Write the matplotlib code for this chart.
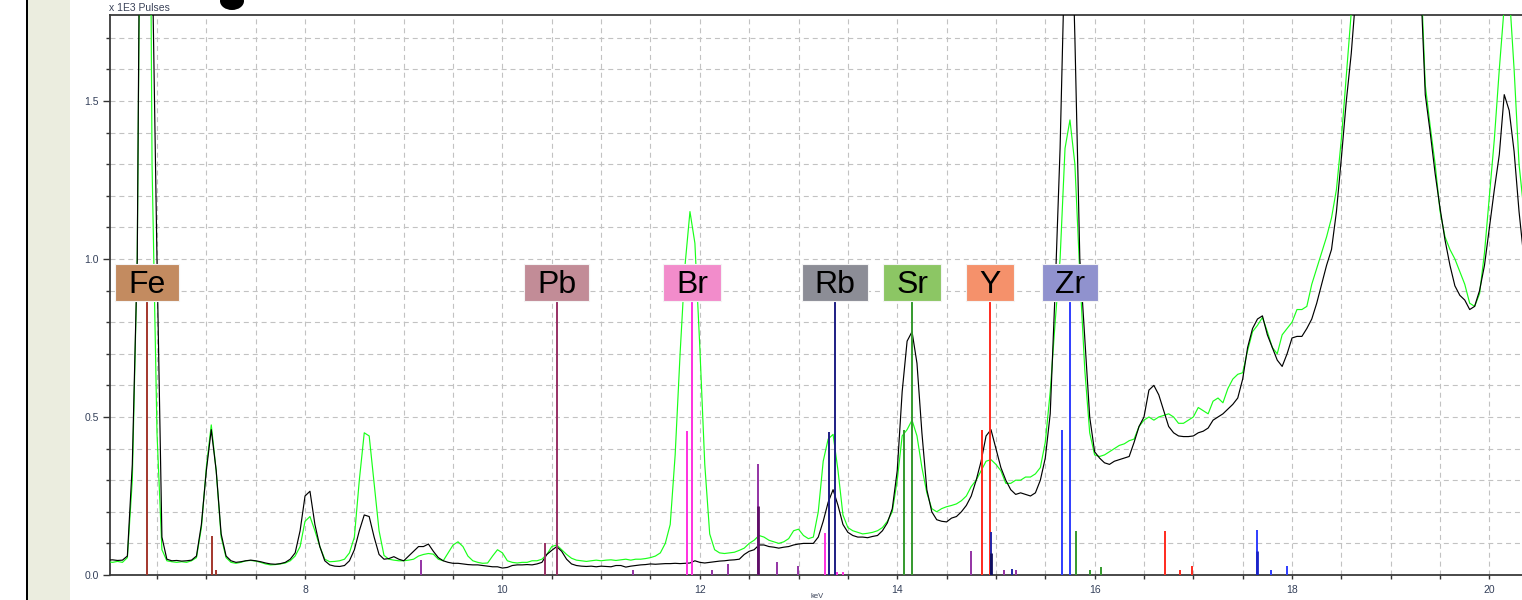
import numpy as np
import matplotlib
matplotlib.use('Agg')
import matplotlib.pyplot as plt
from matplotlib.patches import Rectangle, Ellipse
from matplotlib.ticker import MultipleLocator, FormatStrFormatter

# ---------------- data ----------------
# energy channels (keV), 0.05 keV apart, 6.00 ... 20.35
energy = np.round(np.arange(6.00, 20.351, 0.05), 2)

# spectrum 1 (black), x 1E3 pulses
black_counts = [
    0.047, 0.048, 0.046, 0.047, 0.06, 0.35, 1.00, 3.20, 4.00, 2.00, 1.00, 0.12, 0.05, 0.045, 0.046, 0.044, 0.045, 0.047, 0.06, 0.16,
    0.33, 0.46, 0.33, 0.13, 0.06, 0.045, 0.04, 0.042, 0.045, 0.047, 0.045, 0.042, 0.038, 0.035, 0.034, 0.036, 0.04, 0.05, 0.07, 0.14,
    0.25, 0.265, 0.16, 0.09, 0.045, 0.032, 0.028, 0.027, 0.03, 0.045, 0.08, 0.14, 0.19, 0.185, 0.12, 0.065, 0.05, 0.052, 0.058, 0.05,
    0.045, 0.06, 0.075, 0.09, 0.09, 0.098, 0.075, 0.055, 0.045, 0.04, 0.037, 0.037, 0.035, 0.033, 0.032, 0.032, 0.03, 0.028, 0.026, 0.026,
    0.022, 0.024, 0.03, 0.032, 0.032, 0.033, 0.032, 0.035, 0.04, 0.065, 0.078, 0.09, 0.075, 0.05, 0.035, 0.03, 0.028, 0.027, 0.028, 0.026,
    0.028, 0.027, 0.026, 0.03, 0.03, 0.025, 0.028, 0.03, 0.032, 0.033, 0.035, 0.034, 0.035, 0.036, 0.036, 0.037, 0.036, 0.037, 0.038, 0.045,
    0.04, 0.038, 0.04, 0.042, 0.044, 0.045, 0.047, 0.048, 0.05, 0.065, 0.075, 0.08, 0.095, 0.095, 0.09, 0.088, 0.085, 0.088, 0.09, 0.095,
    0.098, 0.1, 0.1, 0.1, 0.12, 0.17, 0.23, 0.27, 0.22, 0.16, 0.135, 0.125, 0.12, 0.12, 0.118, 0.122, 0.125, 0.14, 0.165, 0.21,
    0.33, 0.58, 0.74, 0.77, 0.67, 0.45, 0.27, 0.2, 0.175, 0.17, 0.168, 0.18, 0.185, 0.2, 0.22, 0.25, 0.3, 0.36, 0.44, 0.46,
    0.4, 0.34, 0.3, 0.27, 0.255, 0.26, 0.255, 0.25, 0.26, 0.3, 0.37, 0.51, 0.9, 1.35, 2.0, 2.3, 1.7, 1.0, 0.75, 0.5,
    0.39, 0.37, 0.355, 0.35, 0.36, 0.365, 0.37, 0.375, 0.42, 0.47, 0.5, 0.585, 0.6, 0.57, 0.52, 0.47, 0.45, 0.44, 0.438, 0.438,
    0.44, 0.45, 0.455, 0.465, 0.49, 0.5, 0.51, 0.525, 0.54, 0.56, 0.62, 0.72, 0.78, 0.81, 0.82, 0.76, 0.72, 0.68, 0.66, 0.7,
    0.75, 0.755, 0.755, 0.78, 0.81, 0.86, 0.92, 0.98, 1.03, 1.15, 1.32, 1.5, 1.65, 1.85, 2.3, 2.8, 3.2, 3.5, 3.7, 3.8,
    3.8, 3.7, 3.4, 3.0, 2.6, 2.2, 1.9, 1.52, 1.4, 1.27, 1.16, 1.06, 0.98, 0.915, 0.885, 0.87, 0.84, 0.85, 0.9, 0.98,
    1.1, 1.22, 1.33, 1.52, 1.47, 1.34, 1.15, 1.0,
]

# spectrum 2 (green), x 1E3 pulses
green_counts = [
    0.042, 0.04, 0.043, 0.04, 0.055, 0.30, 1.00, 3.00, 3.80, 1.30, 0.45, 0.08, 0.045, 0.042, 0.04, 0.042, 0.04, 0.045, 0.055, 0.15,
    0.34, 0.475, 0.33, 0.12, 0.055, 0.04, 0.037, 0.04, 0.045, 0.046, 0.044, 0.04, 0.035, 0.032, 0.033, 0.035, 0.038, 0.045, 0.06, 0.09,
    0.17, 0.185, 0.14, 0.09, 0.05, 0.042, 0.043, 0.045, 0.05, 0.07, 0.12, 0.3, 0.45, 0.44, 0.29, 0.14, 0.062, 0.05, 0.047, 0.045,
    0.045, 0.047, 0.05, 0.06, 0.065, 0.068, 0.066, 0.05, 0.045, 0.07, 0.095, 0.105, 0.09, 0.06, 0.045, 0.04, 0.037, 0.038, 0.06, 0.08,
    0.07, 0.045, 0.04, 0.038, 0.04, 0.04, 0.045, 0.045, 0.05, 0.065, 0.09, 0.095, 0.08, 0.065, 0.053, 0.047, 0.045, 0.043, 0.045, 0.047,
    0.045, 0.047, 0.048, 0.046, 0.048, 0.05, 0.047, 0.05, 0.05, 0.052, 0.055, 0.06, 0.07, 0.1, 0.16, 0.38, 0.7, 0.98, 1.15, 1.05,
    0.72, 0.35, 0.13, 0.08, 0.07, 0.068, 0.07, 0.072, 0.078, 0.085, 0.1, 0.11, 0.125, 0.12, 0.11, 0.105, 0.1, 0.105, 0.115, 0.14,
    0.145, 0.125, 0.115, 0.12, 0.2, 0.36, 0.43, 0.445, 0.33, 0.19, 0.15, 0.14, 0.135, 0.13, 0.132, 0.135, 0.14, 0.15, 0.17, 0.2,
    0.3, 0.44, 0.46, 0.49, 0.44, 0.34, 0.26, 0.21, 0.2, 0.21, 0.216, 0.22, 0.225, 0.235, 0.25, 0.28, 0.3, 0.33, 0.36, 0.365,
    0.35, 0.33, 0.29, 0.29, 0.3, 0.3, 0.31, 0.31, 0.32, 0.34, 0.42, 0.58, 0.8, 1.0, 1.35, 1.44, 1.3, 0.95, 0.65, 0.45,
    0.38, 0.375, 0.38, 0.39, 0.4, 0.41, 0.415, 0.425, 0.43, 0.47, 0.49, 0.5, 0.49, 0.5, 0.505, 0.51, 0.5, 0.48, 0.48, 0.49,
    0.5, 0.53, 0.52, 0.51, 0.55, 0.56, 0.545, 0.59, 0.62, 0.635, 0.64, 0.71, 0.77, 0.79, 0.815, 0.77, 0.72, 0.7, 0.76, 0.78,
    0.8, 0.84, 0.84, 0.85, 0.92, 0.97, 1.02, 1.07, 1.13, 1.22, 1.38, 1.58, 1.78, 2.2, 2.6, 3.0, 3.4, 3.7, 3.9, 4.0,
    3.95, 3.8, 3.5, 3.1, 2.7, 2.3, 1.95, 1.55, 1.42, 1.3, 1.15, 1.07, 1.03, 1.0, 0.96, 0.92, 0.86, 0.85, 0.89, 1.02,
    1.2, 1.38, 1.6, 1.8, 1.85, 1.6, 1.3, 1.15,
]

# element marker lines (keV, height, colour key)
line_energy = [6.40, 7.06, 7.10, 9.17, 10.43, 10.55, 11.32, 11.87, 11.92, 12.12, 12.29,
               12.59, 12.59, 12.78, 12.99, 13.27, 13.31, 13.37, 13.39, 13.45,
               14.07, 14.15, 14.745, 14.86, 14.94, 14.95, 14.95, 15.08, 15.16, 15.20,
               15.67, 15.75, 15.81, 15.95, 16.06, 16.71, 16.86, 16.99,
               17.65, 17.65, 17.79, 17.95]
line_height = [0.90, 0.123, 0.016, 0.047, 0.10, 0.90, 0.016, 0.456, 0.90, 0.016, 0.035,
               0.351, 0.218, 0.042, 0.028, 0.133, 0.452, 0.90, 0.01, 0.01,
               0.459, 0.90, 0.075, 0.459, 0.90, 0.137, 0.07, 0.016, 0.02, 0.016,
               0.459, 0.90, 0.139, 0.016, 0.024, 0.139, 0.016, 0.03,
               0.142, 0.076, 0.016, 0.03]
line_kind = ['fe', 'fe', 'fe', 'pu', 'pb', 'pb', 'pu', 'br', 'br', 'pu', 'pu',
             'pu', 'dpu', 'pu', 'pu', 'br', 'rb', 'rb', 'br', 'br',
             'sr', 'sr', 'pu', 'y', 'y', 'nv', 'dnv', 'pu', 'nv', 'pu',
             'zr', 'zr', 'sr', 'sr', 'sr', 'y', 'y', 'y',
             'zr', 'dbl', 'zr', 'zr']

# element labels
label_names = ['Fe', 'Pb', 'Br', 'Rb', 'Sr', 'Y', 'Zr']
label_energy = [6.40, 10.55, 11.92, 13.37, 14.15, 14.94, 15.75]
label_colors = ['#C38B60', '#C28C97', '#F28CCB', '#8C8D96', '#8CC664', '#F5916B', '#9092CE']

# ---------------- styling ----------------
kind_colors = {'fe': '#A3362C', 'pb': '#983064', 'pu': '#9433A4', 'dpu': '#5E0D66',
               'br': '#FF30E0', 'rb': '#1E1E84', 'sr': '#34992E', 'y': '#FF2A1E',
               'nv': '#2424A8', 'dnv': '#0E0E60', 'zr': '#2F3DFF', 'dbl': '#1A22C8'}

W, H = 1522, 600
fig = plt.figure(figsize=(W / 100, H / 100), dpi=100)
fig.patch.set_facecolor('white')

# left beige panel and black border line
fig.add_artist(Rectangle((27 / W, 0), 43 / W, 1, transform=fig.transFigure,
                         fc='#EBEDDF', ec='none', zorder=0))
fig.add_artist(Rectangle((25.5 / W, 0), 2.5 / W, 1, transform=fig.transFigure,
                         fc='black', ec='none', zorder=1))
# cut-off dark glyph at the top
fig.add_artist(Ellipse((232 / W, 1 - 1 / H), 24 / W, 18 / H, transform=fig.transFigure,
                       fc='black', ec='none', zorder=1))

ax = fig.add_axes([110 / W, 25 / H, (W - 110) / W, 560 / H])
ax.set_facecolor('white')

ax.plot(energy, green_counts, color='#19FF19', lw=0.85, zorder=3)
ax.plot(energy, black_counts, color='black', lw=0.85, zorder=3.2)

for e, h, k in zip(line_energy, line_height, line_kind):
    lw = 2.0 if k in ('dpu', 'dnv', 'dbl') else 1.4
    ax.vlines(e, 0, h, colors=kind_colors[k], lw=lw, zorder=4)

ax.set_xlim(6.024, 20.33)
ax.set_ylim(0, 1.772)

ax.xaxis.set_major_locator(MultipleLocator(2))
ax.xaxis.set_minor_locator(MultipleLocator(0.5))
ax.yaxis.set_major_locator(MultipleLocator(0.5))
ax.yaxis.set_minor_locator(MultipleLocator(0.1))
ax.yaxis.set_major_formatter(FormatStrFormatter('%.1f'))
ax.xaxis.set_major_formatter(FormatStrFormatter('%d'))

ax.grid(which='both', linestyle=(0, (4.5, 3.5)), color='#C2C2C2', lw=0.8, zorder=0)
ax.set_axisbelow(True)

for s in ('left', 'top', 'bottom'):
    ax.spines[s].set_color('#3A3A3A')
    ax.spines[s].set_linewidth(1.3)
ax.spines['right'].set_visible(False)

tick_color = '#34405A'
ax.tick_params(axis='y', which='major', direction='out', length=5, width=1, color='#333',
               labelsize=7.5, labelcolor=tick_color, pad=3)
ax.tick_params(axis='y', which='minor', direction='out', length=3, width=1, color='#333')
ax.tick_params(axis='x', which='both', direction='out', length=3, width=1, color='#333',
               labelsize=7.5, labelcolor=tick_color, pad=4)
for lab in ax.get_xticklabels() + ax.get_yticklabels():
    lab.set_family('Liberation Sans')

fig.text(109 / W, 1 - 8 / H, 'x 1E3 Pulses', fontsize=7.5, family='Liberation Sans',
         color='#3A4258', ha='left', va='center')
fig.text(817 / W, 0.5 / H, 'keV', fontsize=5.5, family='Liberation Sans',
         color='#3A4258', ha='center', va='bottom')

# element labels with coloured boxes
label_center_y = 0.9256
label_baseline_y = 0.891
texts = []
for name, e in zip(label_names, label_energy):
    t = ax.text(e, label_baseline_y, name, ha='center', va='baseline', fontsize=23,
                family='Liberation Sans', color='black', zorder=7)
    texts.append(t)

fig.canvas.draw()
renderer = fig.canvas.get_renderer()
inv = ax.transData.inverted()
for t, e, c in zip(texts, label_energy, label_colors):
    bb = t.get_window_extent(renderer)
    w_px = bb.width + 26
    h_px = 37
    cx, cy = ax.transData.transform((e, label_center_y))
    x0, y0 = inv.transform((cx - w_px / 2, cy - h_px / 2))
    x1, y1 = inv.transform((cx + w_px / 2, cy + h_px / 2))
    ax.add_patch(Rectangle((x0, y0), x1 - x0, y1 - y0, fc=c, ec='#F4F4F4', lw=0.8,
                           zorder=6))

fig.savefig('out.png', dpi=100)
